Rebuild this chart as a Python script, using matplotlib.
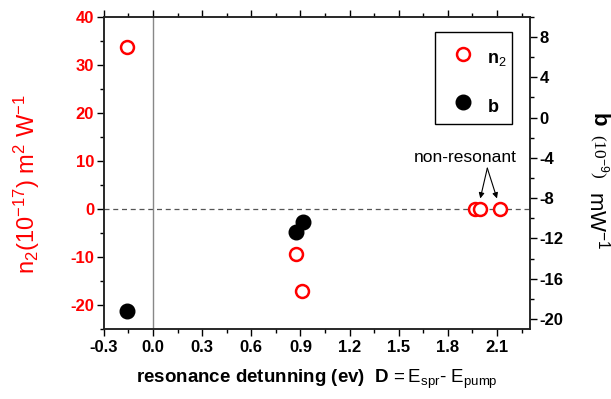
"""n2 and b versus resonance detuning"""

import matplotlib
matplotlib.use("Agg")
import matplotlib.pyplot as plt
from matplotlib.patches import Rectangle
from matplotlib.ticker import MultipleLocator

plt.rcParams["font.family"] = ["Liberation Sans", "DejaVu Sans"]
plt.rcParams["mathtext.fontset"] = "custom"
plt.rcParams["mathtext.rm"] = "Liberation Sans"
plt.rcParams["mathtext.bf"] = "Liberation Sans:bold"
plt.rcParams["mathtext.it"] = "Liberation Sans:italic"

# n2 data (left axis, 10^-17 m^2/W)
n2_detuning = [-0.16, 0.872, 0.91, 1.968, 1.998, 2.116]
n2_values = [33.8, -9.4, -17.1, 0.0, 0.0, 0.0]

# b data (right axis, 10^-9 m/W)
b_detuning = [-0.16, 0.872, 0.915]
b_values = [-19.2, -11.4, -10.4]

x_ticks = [-0.3, 0.0, 0.3, 0.6, 0.9, 1.2, 1.5, 1.8, 2.1]
left_ticks = [-20, -10, 0, 10, 20, 30, 40]
right_ticks = [-20, -16, -12, -8, -4, 0, 4, 8]

RED = "#ff0000"

fig = plt.figure(figsize=(6.11, 3.99), dpi=100)
axe = fig.add_axes([0.170, 0.175, 0.697, 0.783])
axr = axe.twinx()

axe.set_xlim(-0.3, 2.3)
axe.set_ylim(-25, 40)
axr.set_ylim(-21, 10)

axe.axhline(0, color="#555555", lw=0.9, ls=(0, (4, 3)), zorder=1)
axe.axvline(0, color="#888888", lw=1.0, zorder=1)

h_n2, = axe.plot(n2_detuning, n2_values, "o", ls="none", ms=9.3,
                 mfc="white", mec=RED, mew=1.8, zorder=3,
                 label=r"$\mathbf{n}_\mathrm{2}$")
h_b, = axr.plot(b_detuning, b_values, "o", ls="none", ms=10.5,
                mfc="black", mec="black", zorder=3, label=r"$\mathbf{b}$")

axe.set_xticks(x_ticks, ["{:.1f}".format(v) for v in x_ticks],
               fontweight="bold")
axe.xaxis.set_minor_locator(MultipleLocator(0.15))
axe.set_yticks(left_ticks, [str(v) for v in left_ticks], fontweight="bold")
axe.yaxis.set_minor_locator(MultipleLocator(5))
axr.set_yticks(right_ticks, [str(v) for v in right_ticks], fontweight="bold")
axr.yaxis.set_minor_locator(MultipleLocator(2))

for ax in (axe, axr):
    for spine in ax.spines.values():
        spine.set_linewidth(1.1)
        spine.set_color("#222222")

axe.tick_params(axis="x", which="both", direction="out", top=True,
                labelsize=12, pad=3)
axe.tick_params(axis="x", which="major", length=5, width=1)
axe.tick_params(axis="x", which="minor", length=3, width=1)
axe.tick_params(axis="y", which="both", direction="out", labelcolor=RED,
                labelsize=12, pad=2)
axe.tick_params(axis="y", which="major", length=5, width=1)
axe.tick_params(axis="y", which="minor", length=3, width=1)
axr.tick_params(axis="y", which="both", direction="out", labelsize=12, pad=2)
axr.tick_params(axis="y", which="major", length=5, width=1)
axr.tick_params(axis="y", which="minor", length=3, width=1)

axe.set_ylabel(r"n$_2$(10$^{-17}$) m$^2$ W$^{-1}$", color=RED, fontsize=17)
axe.yaxis.set_label_coords(-0.146, 0.464)

# right label: mixed sizes and fonts, so three pieces
fig.text(0.979, 0.700, "b", fontsize=16, fontweight="bold", rotation=270,
         ha="center", va="center")
fig.text(0.979, 0.608, r"(10$^{-9}$)", fontsize=12.5, family="Liberation Serif",
         rotation=270, ha="center", va="center")
fig.text(0.978, 0.449, r"mW$^{-1}$", fontsize=16, rotation=270,
         ha="center", va="center")

axe.set_xlabel(r"$\mathbf{resonance\ detunning\ (ev)\ \ D}\,\mathrm{=E_{spr}\text{-}\ E_{pump}}$",
               fontsize=13.5, labelpad=9)

axe.text(1.907, 10.8, "non-resonant", ha="center", va="center", fontsize=12.5)
for x_tip in (1.998, 2.10):
    axe.annotate("", xy=(x_tip, 2.2), xytext=(2.041, 8.5),
                 arrowprops=dict(arrowstyle="-|>", color="black", lw=0.8,
                                 mutation_scale=8, shrinkA=0, shrinkB=0))

# legend box drawn by hand so its size matches
axr.add_patch(Rectangle((0.777, 0.656), 0.181, 0.295, transform=axr.transAxes,
                        facecolor="white", edgecolor="black", lw=1.0,
                        zorder=4))
leg = axr.legend(handles=[h_n2, h_b], loc="upper left",
                 bbox_to_anchor=(0.777, 0.935), frameon=False,
                 fontsize=13, labelspacing=1.2,
                 borderpad=0.4, handlelength=2.3, handleheight=1.9,
                 handletextpad=0.2, borderaxespad=0)
leg.set_zorder(5)

fig.savefig("out.png", dpi=100)
